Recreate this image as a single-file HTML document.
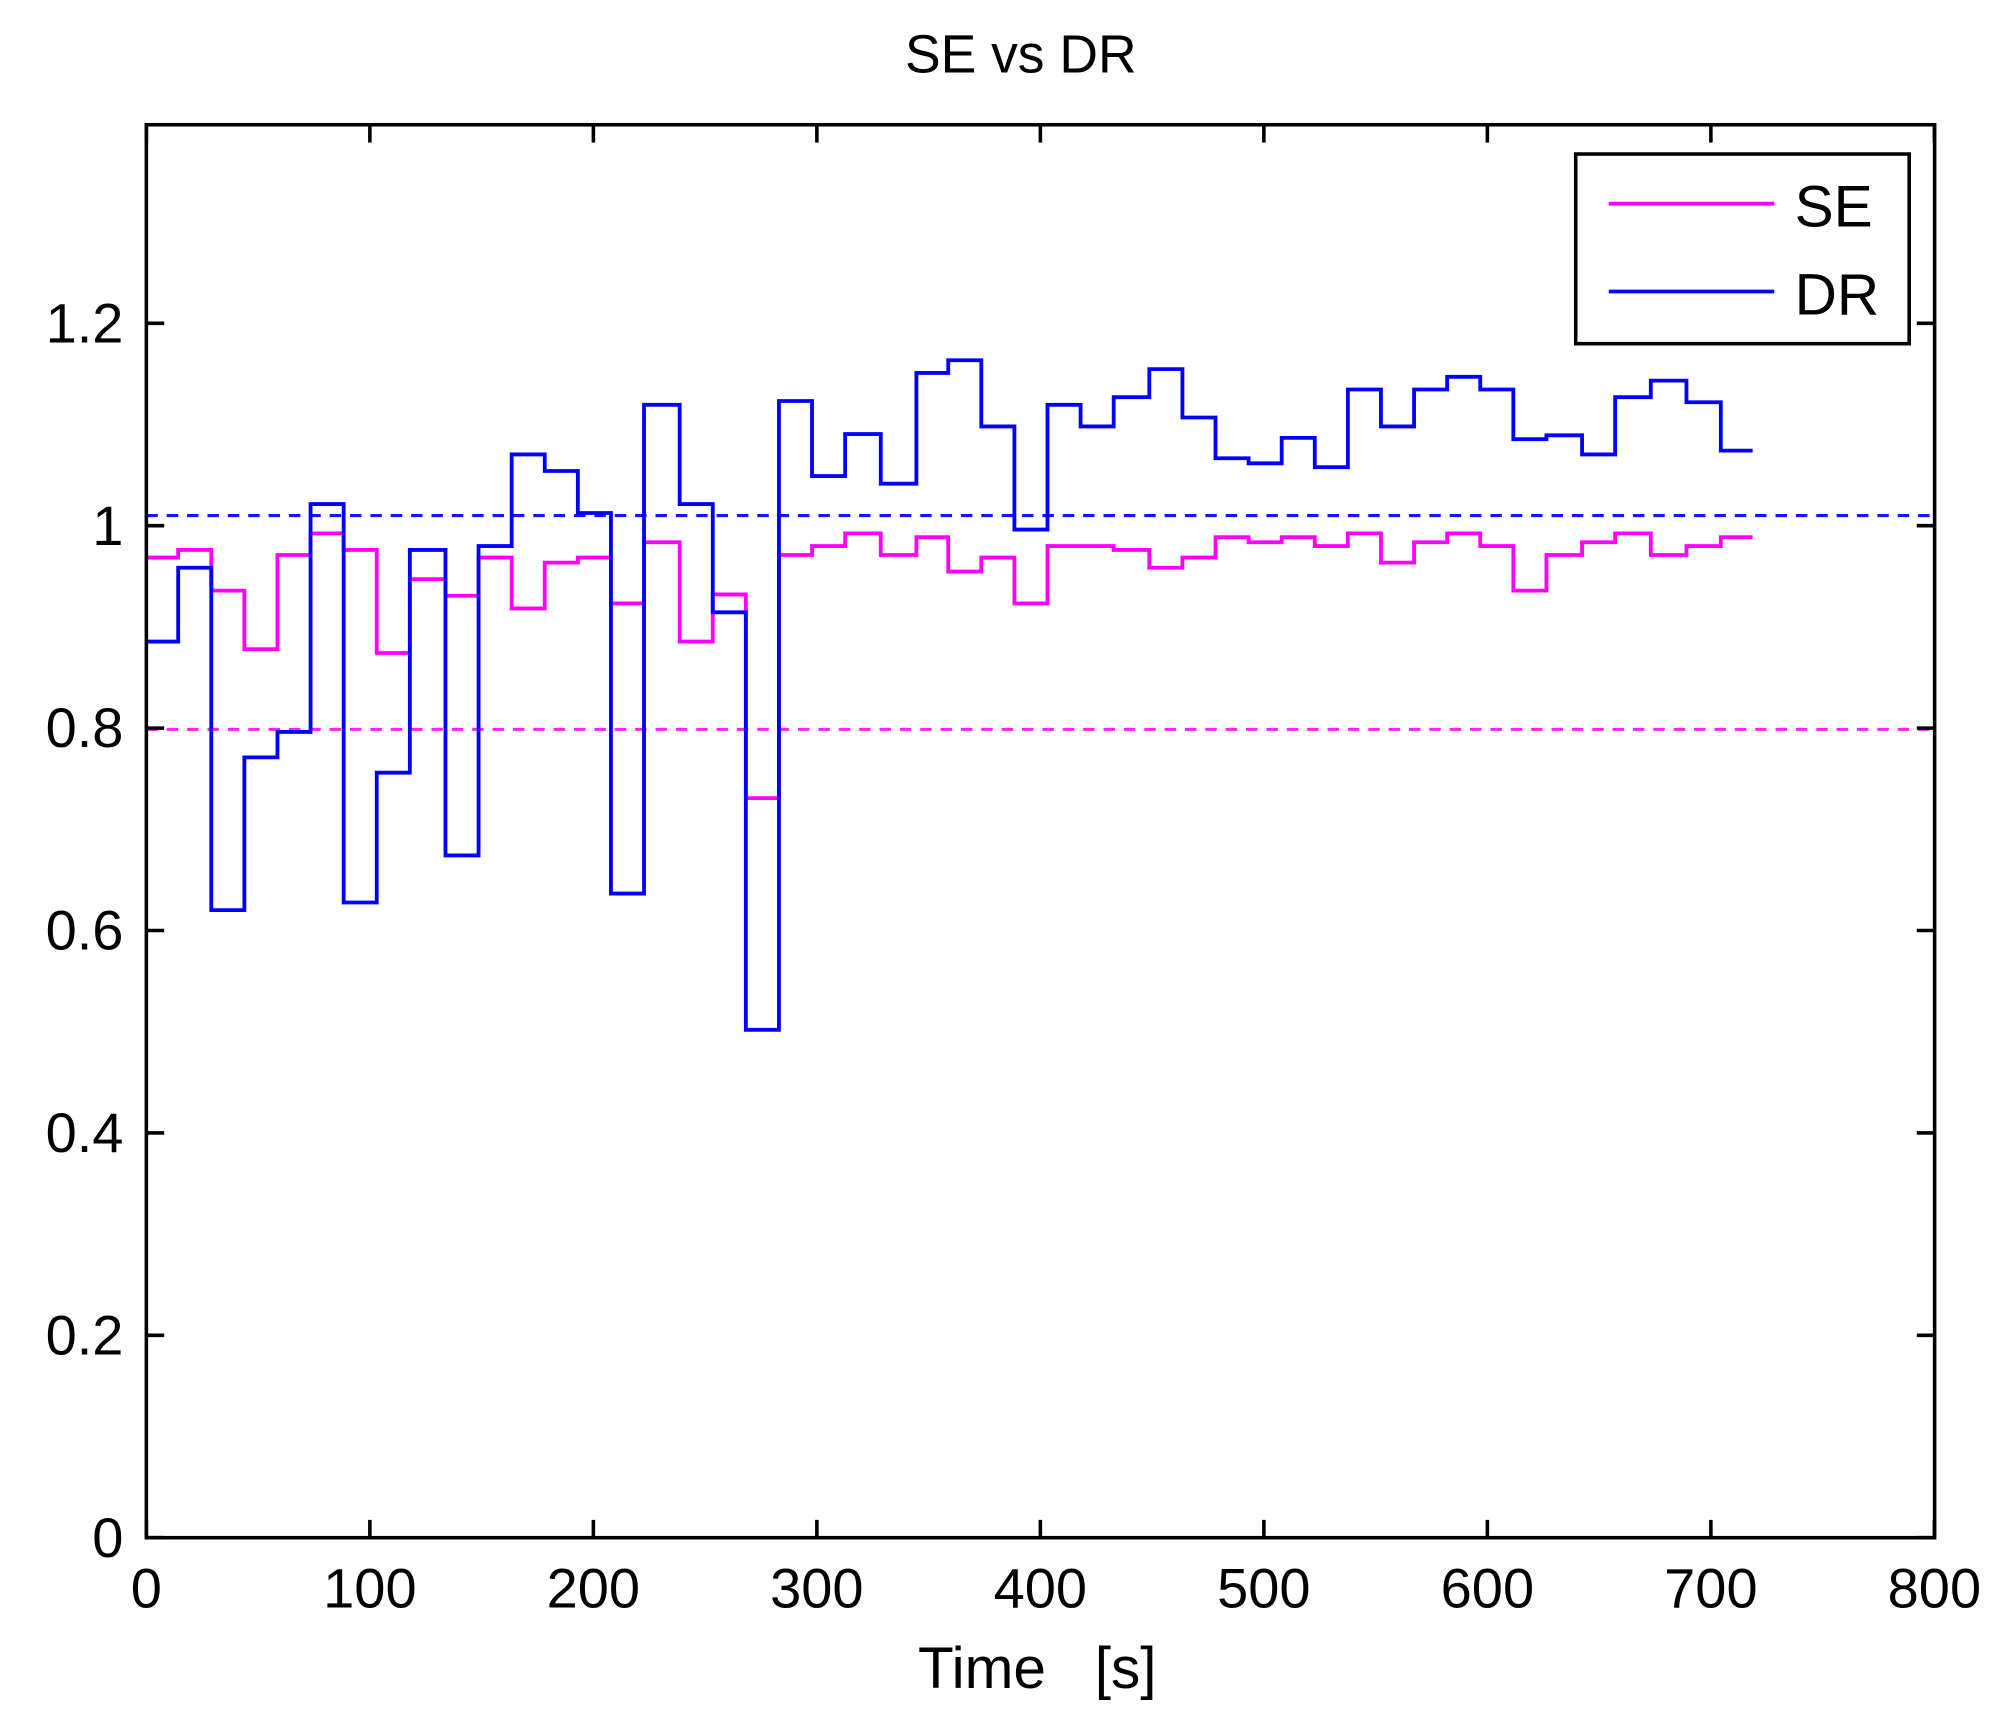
<!DOCTYPE html>
<html><head><meta charset="utf-8"><style>html,body{margin:0;padding:0;background:#fff}svg{display:block}</style></head>
<body>
<svg id="s" width="1997" height="1728" viewBox="0 0 1569 1357.5" preserveAspectRatio="none" xmlns="http://www.w3.org/2000/svg" font-family="Liberation Sans, Arial, sans-serif">
<rect width="1569" height="1358" fill="#fff"/>
<text x="802" y="57" font-size="42" text-anchor="middle">SE vs DR</text>
<line x1="115" y1="405" x2="1520" y2="405" stroke="#1414ff" stroke-width="2.4" stroke-dasharray="9,7"/>
<line x1="115" y1="573" x2="1520" y2="573" stroke="#ff22ff" stroke-width="2.4" stroke-dasharray="9,7"/>
<path id="se" fill="none" stroke="#ff00ff" stroke-width="3"/>
<path id="dr" fill="none" stroke="#0000ff" stroke-width="3"/>
<rect x="115" y="98" width="1405" height="1110" fill="none" stroke="#000" stroke-width="2.8"/>
<g id="ticks" stroke="#000" stroke-width="2.8"></g>
<g id="labs" font-size="44"></g>
<text x="815" y="1326" font-size="46" text-anchor="middle">Time&#160;&#160;&#160;[s]</text>
<rect x="1238" y="121" width="262" height="149" fill="#fff" stroke="#000" stroke-width="2.8"/>
<line x1="1264" y1="160" x2="1394" y2="160" stroke="#ff00ff" stroke-width="3"/>
<line x1="1264" y1="229" x2="1394" y2="229" stroke="#0000ff" stroke-width="3"/>
<text x="1410" y="178" font-size="46">SE</text>
<text x="1410" y="247" font-size="46">DR</text>
</svg>
<script>
var xs=[115,140,166,192,218,244,270,296,322,350,376,402,428,454,480,506,534,560,586,612,638,664,692,720,745,771,797,823,849,875,903,929,955,981,1007,1033,1059,1085,1111,1137,1163,1189,1215,1243,1269,1297,1325,1352,1377];
var dr=[504,446,715,595,575,396,709,607,432,672,429,357,370,403,702,318,396,481,809,315,374,341,380,293,283,335,416,318,335,312,290,328,360,364,344,367,306,335,306,296,306,345,342,357,312,299,316,354];
var se=[438,432,464,510,436,419,432,513,455,468,438,478,442,438,474,426,504,467,627,436,429,419,436,422,449,438,474,429,429,432,446,438,422,426,422,429,419,442,426,419,429,464,436,426,419,436,429,422];
function p(v){var d="M"+xs[0]+" "+v[0];for(var i=0;i<v.length;i++){if(i>0)d+=" L"+xs[i]+" "+v[i];d+=" L"+xs[i+1]+" "+v[i];}return d;}
document.getElementById("se").setAttribute("d",p(se));
document.getElementById("dr").setAttribute("d",p(dr));
var t="",l="";
for(var i=0;i<=8;i++){var x=115+i*175.6;t+='<line x1="'+x+'" y1="1208" x2="'+x+'" y2="1194"/><line x1="'+x+'" y1="98" x2="'+x+'" y2="112"/>';l+='<text x="'+x+'" y="1263" text-anchor="middle">'+(i*100)+'</text>';}
var yl=["0","0.2","0.4","0.6","0.8","1","1.2"];
for(var j=0;j<=6;j++){var y=1208-j*159;t+='<line x1="115" y1="'+y+'" x2="129" y2="'+y+'"/><line x1="1520" y1="'+y+'" x2="1506" y2="'+y+'"/>';l+='<text x="97" y="'+(y+15)+'" text-anchor="end">'+yl[j]+'</text>';}
document.getElementById("ticks").innerHTML=t;
document.getElementById("labs").innerHTML=l;
</script>
</body></html>
